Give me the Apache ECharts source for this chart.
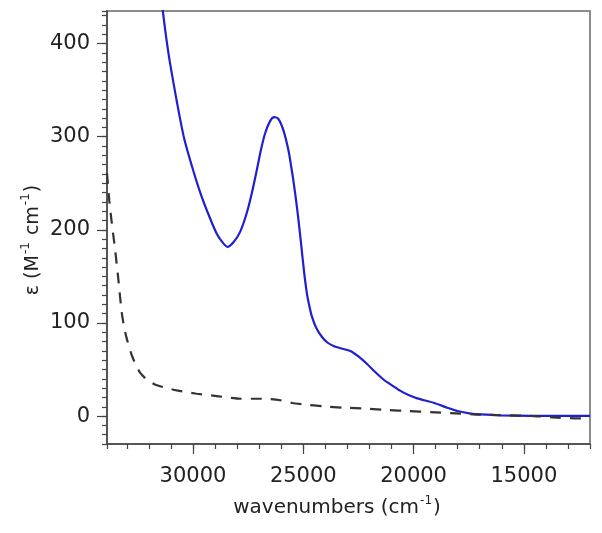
<!DOCTYPE html>
<html>
<head>
<meta charset="utf-8">
<script src="https://cdn.jsdelivr.net/npm/echarts@6/dist/echarts.min.js"></script>
<style>
html,body{margin:0;padding:0;background:#fff;}
#chart{width:602px;height:533px;}
</style>
</head>
<body>
<div id="chart"></div>
<script>
// wavenumber (cm-1) and epsilon (M-1 cm-1)
const blueWavenumbers = [31450, 31364, 31228, 31046, 30741, 30409, 29987, 29637, 29228, 28923, 28696, 28441, 28168, 27864, 27560, 27319, 27105, 26909, 26727, 26500, 26318, 26123, 25896, 25669, 25546, 25441, 25318, 25214, 25114, 25023, 24932, 24818, 24705, 24605, 24410, 24150, 23909, 23623, 23273, 22865, 22501, 22107, 21727, 21351, 20978, 20592, 20228, 19833, 19092, 18470, 18015, 17407, 16957, 16048, 14684, 12000];
const blueValues      = [448,   434,   408.6, 379.6, 338.7, 298.9, 263.4, 237.6, 212.4, 195.7, 187.6, 181.7, 186.6, 197.8, 218.3, 240.9, 264.5, 287,   304,   317,   321,   319,   306.5, 285,   267.7, 251.6, 230.1, 209.7, 188.2, 167.7, 148.4, 129,   116.1, 106.5, 94.6,  84.9,  79,    75.3,  72.6,  69.9,  64,    55.9,  47,    39,    33,    27,    22.5,  19,    14.3,  9,     5.4,   2.7,   1.8,   0.8,   0.3,   0.2];

const dashWavenumbers = [33900, 33795, 33695, 33545, 33395, 33241, 33136, 33013, 32786, 32614, 32409, 32091, 31727, 31273, 30741, 29832, 28923, 27864, 26955, 26500, 26046, 25500, 24986, 24078, 23169, 22107, 21200, 20215, 19228, 18319, 17275, 16048, 14548, 13456, 12547, 12000];
const dashValues      = [261,   231,   210,   181,   149,   113,   97,    84,    66,    56,    47,    39,    34,    30.6,  27.6,  24,    21.5,  18.6,  18.6,  18.3,  17,    14,    12.6,  10.4,  9,     8,     6.5,   5.4,   4.3,   3.2,   1.8,   0.9,   0,     -1.8,  -2.5,  -2];

const xLabelValues = [15000, 20000, 25000, 30000];
const yLabelValues = [0, 100, 200, 300, 400];

const FONT = 'DejaVu Sans';
const AX = '#444';

// layout
const W = 602, H = 533, PL = 107, PR = 12, PT = 11, PB = 89;
const X_MIN = 12000, X_MAX = 33900, Y_MIN = -30, Y_MAX = 435;
const plotW = W - PL - PR, plotH = H - PT - PB;
const xPix = w => PL + (X_MAX - w) / (X_MAX - X_MIN) * plotW;   // inverse axis
const yPix = v => PT + (Y_MAX - v) / (Y_MAX - Y_MIN) * plotH;
const xMajLo = Math.min(...xLabelValues), xMajHi = Math.max(...xLabelValues);
const yMajLo = Math.min(...yLabelValues), yMajHi = Math.max(...yLabelValues);

const chart = echarts.init(document.getElementById('chart'), null, {renderer: 'canvas'});

function pairs(xs, ys) { return xs.map((x, i) => [x, ys[i]]); }
const plain = v => String(v);
const majorTick = {show: true, length: 10, lineStyle: {color: AX, width: 1.2}};

chart.setOption({
  animation: false,
  backgroundColor: '#fff',
  grid: [
    {left: PL, right: PR, top: PT, bottom: PB, show: true, borderColor: '#8c8c8c', borderWidth: 2},
    // major x ticks
    {left: xPix(xMajHi), right: W - xPix(xMajLo), top: PT, bottom: PB, show: false},
    // major y ticks
    {left: PL, right: PR, top: yPix(yMajHi), bottom: H - yPix(yMajLo), show: false}
  ],
  xAxis: [
    {
      type: 'value', gridIndex: 0, min: X_MIN, max: X_MAX, inverse: true, position: 'bottom', interval: 1000,
      splitLine: {show: false},
      axisLine: {show: true, onZero: false, lineStyle: {color: AX, width: 1.5}},
      axisTick: {show: true, length: 5, lineStyle: {color: AX, width: 1.2}},
      axisLabel: {customValues: xLabelValues, formatter: plain, fontSize: 21, fontFamily: FONT, color: '#222', margin: 22}
    },
    {
      type: 'value', gridIndex: 1, min: xMajLo, max: xMajHi, inverse: true, position: 'bottom', interval: 5000,
      splitLine: {show: false},
      axisLine: {show: false, onZero: false},
      axisTick: majorTick,
      axisLabel: {show: false}
    },
    {type: 'value', gridIndex: 2, show: false, min: X_MIN, max: X_MAX}
  ],
  yAxis: [
    {
      type: 'value', gridIndex: 0, min: Y_MIN, max: Y_MAX, position: 'left', interval: 10,
      splitLine: {show: false},
      axisLine: {show: true, onZero: false, lineStyle: {color: AX, width: 1.5}},
      axisTick: {show: true, length: 5, lineStyle: {color: AX, width: 1.2}},
      axisLabel: {customValues: yLabelValues, formatter: plain, fontSize: 21, fontFamily: FONT, color: '#222', margin: 17}
    },
    {type: 'value', gridIndex: 1, show: false, min: Y_MIN, max: Y_MAX},
    {
      type: 'value', gridIndex: 2, min: yMajLo, max: yMajHi, position: 'left', interval: 100,
      splitLine: {show: false},
      axisLine: {show: false, onZero: false},
      axisTick: majorTick,
      axisLabel: {show: false}
    }
  ],
  series: [
    {
      type: 'line', xAxisIndex: 0, yAxisIndex: 0,
      data: pairs(blueWavenumbers, blueValues),
      smooth: 0.25, showSymbol: false, clip: true,
      lineStyle: {color: '#1f1fd2', width: 2.2}
    },
    {
      type: 'line', xAxisIndex: 0, yAxisIndex: 0,
      data: pairs(dashWavenumbers, dashValues),
      smooth: 0.2, showSymbol: false, clip: true,
      lineStyle: {color: '#333', width: 2.2, type: [11, 9]}
    },
    {type: 'line', xAxisIndex: 1, yAxisIndex: 1, silent: true, data: [], showSymbol: false, lineStyle: {opacity: 0}},
    {type: 'line', xAxisIndex: 2, yAxisIndex: 2, silent: true, data: [], showSymbol: false, lineStyle: {opacity: 0}}
  ],
  graphic: [
    {
      type: 'text', x: 337, y: 508,
      style: {
        text: '{t|wavenumbers (cm}{s|-1}{t|)}',
        align: 'center', verticalAlign: 'middle',
        rich: {
          t: {fontSize: 20, fontFamily: FONT, fill: '#222', lineHeight: 26, verticalAlign: 'middle'},
          s: {fontSize: 12, fontFamily: FONT, fill: '#222', lineHeight: 26, verticalAlign: 'top', padding: [0, 1, 0, 1]}
        }
      }
    },
    {
      type: 'text', x: 33, y: 240, rotation: Math.PI / 2,
      style: {
        text: '{t|ε (M}{s|-1}{t| cm}{s|-1}{t|)}',
        align: 'center', verticalAlign: 'middle',
        rich: {
          t: {fontSize: 19, fontFamily: FONT, fill: '#222', lineHeight: 26, verticalAlign: 'middle'},
          s: {fontSize: 12, fontFamily: FONT, fill: '#222', lineHeight: 26, verticalAlign: 'top', padding: [0, 1, 0, 1]}
        }
      }
    }
  ]
});
</script>
</body>
</html>
